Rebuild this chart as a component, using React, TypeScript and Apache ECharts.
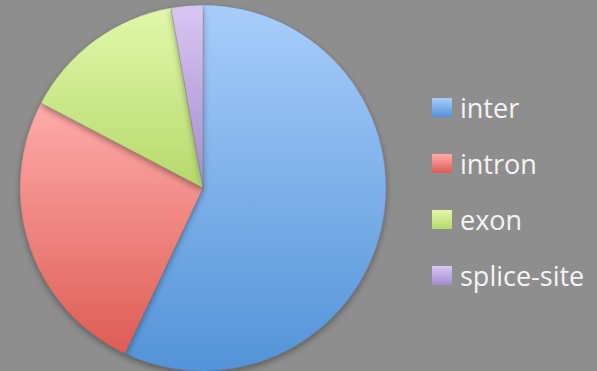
import React, { useEffect, useRef } from "react";
import * as echarts from "echarts";

const categories = ["inter", "intron", "exon", "splice-site"];
const values = [57.0, 25.7, 14.5, 2.8];
const topColors = ["#a8cdfb", "#ffacaa", "#e2f8aa", "#d8c6f2"];
const bottomColors = ["#5393d8", "#de5c55", "#b5d96c", "#a48bce"];

export default function App() {
  const ref = useRef<HTMLDivElement>(null);
  useEffect(() => {
    if (!ref.current) return;
    document.body.style.margin = "0";
    const chart = echarts.init(ref.current, undefined, { renderer: "svg" });
    const grad = (i: number) =>
      new echarts.graphic.LinearGradient(0, 0, 0, 1, [
        { offset: 0, color: topColors[i] },
        { offset: 1, color: bottomColors[i] },
      ]);
    chart.setOption({
      animation: false,
      backgroundColor: "#8e8e8e",
      legend: {
        orient: "vertical",
        left: 427,
        top: 89,
        itemWidth: 20,
        itemHeight: 19,
        itemGap: 29,
        icon: "rect",
        itemStyle: { borderWidth: 0, shadowBlur: 0, shadowOffsetY: 0, shadowColor: "transparent" },
        textStyle: {
          color: "#f4f4f4",
          fontSize: 27,
          lineHeight: 20,
          fontFamily: "Open Sans",
          padding: [0, 0, 0, 3],
        },
        data: categories,
      },
      series: [
        {
          type: "pie",
          center: [203, 188],
          radius: [0, 183],
          startAngle: 90,
          clockwise: true,
          label: { show: false },
          labelLine: { show: false },
          emphasis: { disabled: true },
          data: categories.map((c, i) => ({
            name: c,
            value: values[i],
            itemStyle: {
              color: grad(i),
              borderColor: "rgba(90,90,90,0.35)",
              borderWidth: 0.6,
              shadowBlur: 6,
              shadowOffsetY: 3,
              shadowColor: "rgba(0,0,0,0.35)",
            },
          })),
        },
      ],
    });
    return () => chart.dispose();
  }, []);
  return <div ref={ref} style={{ position: "fixed", left: 0, top: 0, width: 597, height: 371 }} />;
}
